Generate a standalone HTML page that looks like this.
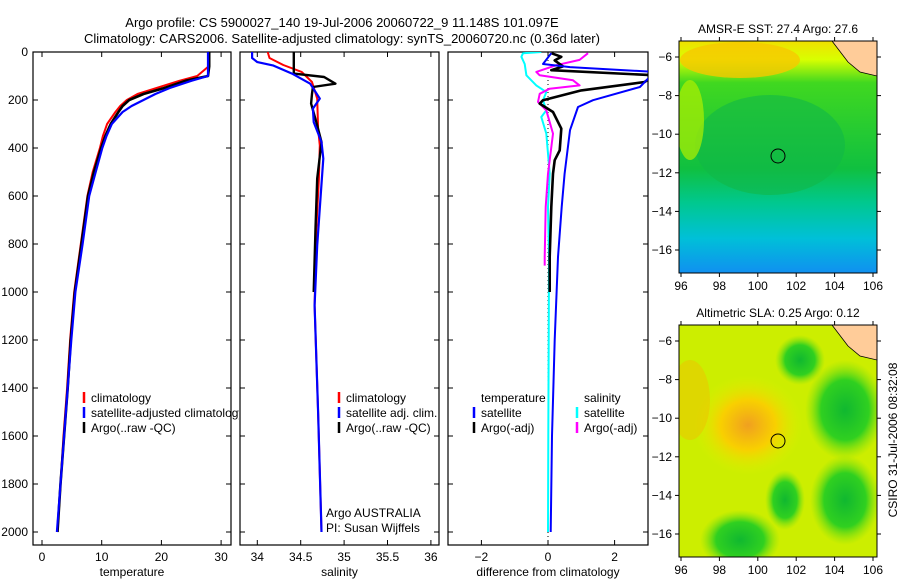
<!DOCTYPE html>
<html><head><meta charset="utf-8"><style>
body{margin:0;background:#fff;}
svg{display:block;font-family:"Liberation Sans",sans-serif;}
</style></head><body>
<svg id="fig" width="900" height="580" viewBox="0 0 900 580">
<defs>
<linearGradient id="sstg" x1="0" y1="0" x2="0" y2="1">
<stop offset="0" stop-color="#f0e000"/><stop offset="0.08" stop-color="#d8ff00"/><stop offset="0.18" stop-color="#40d820"/>
<stop offset="0.55" stop-color="#10c040"/><stop offset="0.7" stop-color="#00c890"/><stop offset="0.85" stop-color="#00c0d8"/><stop offset="1" stop-color="#1090f0"/>
</linearGradient>
<radialGradient id="slaor" cx="0.5" cy="0.5" r="0.5"><stop offset="0" stop-color="#f0a020"/><stop offset="0.5" stop-color="#f8d000"/><stop offset="1" stop-color="#ddf000" stop-opacity="0"/></radialGradient>
<radialGradient id="slagr" cx="0.5" cy="0.5" r="0.5"><stop offset="0" stop-color="#10b830"/><stop offset="0.6" stop-color="#30d020"/><stop offset="1" stop-color="#80e010" stop-opacity="0"/></radialGradient>
<clipPath id="c1"><rect x="33" y="52" width="198" height="493"/></clipPath>
<clipPath id="c1l"><rect x="33" y="52" width="206" height="493"/></clipPath>
<clipPath id="c2"><rect x="240" y="52" width="199" height="493"/></clipPath>
<clipPath id="c3"><rect x="448" y="52" width="200" height="493"/></clipPath>
<clipPath id="m1"><rect x="679" y="41" width="198" height="232"/></clipPath>
<clipPath id="m2"><rect x="679" y="325" width="198" height="232"/></clipPath>
</defs>
<text x="342" y="27" font-size="13" text-anchor="middle">Argo profile: CS 5900027_140 19-Jul-2006 20060722_9 11.148S 101.097E</text>
<text x="342" y="43" font-size="13" text-anchor="middle">Climatology: CARS2006. Satellite-adjusted climatology: synTS_20060720.nc (0.36d later)</text>
<g id="panels"></g>
<g id="maps">
<g clip-path="url(#m1)">
<rect x="679" y="41" width="198" height="232" fill="url(#sstg)"/>
<ellipse cx="740" cy="60" rx="60" ry="18" fill="#f8c800" opacity="0.8"/>
<ellipse cx="770" cy="145" rx="75" ry="50" fill="#10b848" opacity="0.6"/>
<ellipse cx="690" cy="120" rx="14" ry="40" fill="#b0f000" opacity="0.7"/>
<polygon points="832,41 877,41 877,76 860,72 848,62" fill="#ffcc99" stroke="#000" stroke-width="0.8"/>
<circle cx="778" cy="156" r="7" fill="none" stroke="#000"/>
</g>
<rect x="679" y="41" width="198" height="232" fill="none" stroke="#000"/>
<text x="778" y="33" font-size="12" text-anchor="middle">AMSR-E SST: 27.4 Argo: 27.6</text>
<g clip-path="url(#m2)">
<rect x="679" y="325" width="198" height="232" fill="#ccee00"/>
<ellipse cx="845" cy="410" rx="40" ry="50" fill="url(#slagr)"/>
<ellipse cx="845" cy="500" rx="35" ry="45" fill="url(#slagr)"/>
<ellipse cx="740" cy="540" rx="40" ry="30" fill="url(#slagr)"/>
<ellipse cx="785" cy="500" rx="20" ry="30" fill="url(#slagr)"/>
<ellipse cx="800" cy="360" rx="25" ry="25" fill="url(#slagr)"/>
<ellipse cx="748" cy="425" rx="55" ry="50" fill="url(#slaor)"/>
<ellipse cx="690" cy="400" rx="20" ry="40" fill="#f0c000" opacity="0.5"/>
<polygon points="832,325 877,325 877,360 860,356 848,346" fill="#ffcc99" stroke="#000" stroke-width="0.8"/>
<circle cx="778" cy="441" r="7" fill="none" stroke="#000"/>
</g>
<rect x="679" y="325" width="198" height="232" fill="none" stroke="#000"/>
<text x="778" y="317" font-size="12" text-anchor="middle">Altimetric SLA: 0.25 Argo: 0.12</text>
<text transform="translate(897,440) rotate(-90)" font-size="12" text-anchor="middle">CSIRO 31-Jul-2006 08:32:08</text>
</g>
<script>
// ---- profile data ----
const tempDepths = [0,60,100,120,150,175,200,225,250,300,350,400,500,600,800,1000,1200,1400,1600,1800,2000];
const tempClim = [27.9,27.9,26,23,19.2,16,14.2,13.1,12.3,10.9,10.2,9.7,8.5,7.6,6.5,5.4,4.7,4.2,3.6,3.1,2.6];
const tempSat = [27.8,27.8,27.8,25,21.4,19,17,15,13.5,11.7,10.8,10.1,9,7.9,6.8,5.6,4.9,4.3,3.7,3.1,2.5];
const tempArgo = [28,28,27.8,24,20.5,17,14.6,13.5,12.8,11.5,10.6,9.9,8.7,7.7,6.6,5.5,4.8,4.3,3.7,3.1,2.6];
const salDepthsClim = [0,25,54,83,125,194,319,389,528,736,1056,1500,2000];
const salClim = [34.12,34.14,34.3,34.51,34.63,34.69,34.7,34.72,34.71,34.68,34.66,34.7,34.74];
const salDepthsSat = [0,25,42,56,90,132,194,236,292,375,444,597,806,1056,1500,2000];
const salSat = [33.94,33.94,34.0,34.18,34.4,34.61,34.72,34.64,34.65,34.74,34.76,34.73,34.69,34.66,34.7,34.74];
const salDepthsArgo = [0,90,104,132,146,174,215,292,375,528,736,1000];
const salArgo = [34.42,34.42,34.77,34.9,34.64,34.63,34.62,34.68,34.74,34.69,34.67,34.65];
const dDepthsTS = [5,50,63,83,146,201,229,326,507,646,854,1200,1600,2000];
const dTempSat = [0.1,-0.15,0.66,3.2,2.76,1.35,0.9,0.66,0.5,0.41,0.3,0.2,0.12,0.08];
const dDepthsTA = [5,20,35,60,76,97,125,160,201,215,250,319,410,451,507,646,854,1000];
const dTempArgo = [0.1,0.4,0.2,0.45,0.1,3.2,2.9,1.0,-0.15,-0.25,0.15,0.4,0.35,0.2,0.15,0.1,0.05,0.05];
const dDepthsSS = [0,5,20,50,97,139,167,201,243,271,340,507,646,854,1200,1600,2000];
const dSalSat = [-0.2,-0.75,-0.8,-0.7,-0.65,-0.35,-0.05,-0.15,-0.05,-0.2,-0.05,0.05,0,0.03,0.02,0.01,0.0];
const dDepthsSA = [5,33,55,83,97,118,139,153,174,208,243,340,507,646,854,890];
const dSalArgo = [1.2,0.95,0.25,-0.35,-0.25,0.75,0.95,0.05,-0.25,-0.3,-0.05,0.15,0,-0.07,-0.1,-0.1];
const depthTicks = [0,200,400,600,800,1000,1200,1400,1600,1800,2000];
const tempTicks = [0,10,20,30];
const salTicks = [34,34.5,35,35.5,36];
const diffTicks = [-2,0,2];
const lonTicks = [96,98,100,102,104,106];
const latTicks = [-6,-8,-10,-12,-14,-16];

const NS="http://www.w3.org/2000/svg";
const y = d => 52 + d*0.24;
const xT = v => 42 + v*5.97;
const xS = v => 257.3 + (v-34)*86.8;
const xD = v => 548 + v*33.3;
const root = document.getElementById('panels');
function mk(tag, attrs, parent){const e=document.createElementNS(NS,tag);for(const k in attrs)e.setAttribute(k,attrs[k]);(parent||root).appendChild(e);return e;}
function txt(s,x,yy,anchor,parent){const t=mk('text',{x:x,y:yy,'font-size':12,'text-anchor':anchor||'start'},parent);t.textContent=s;return t;}

const panels=[{x0:33,x1:231,fx:xT,ticks:tempTicks,title:'temperature',clip:'c1',name:'temperature'},
 {x0:240,x1:439,fx:xS,ticks:salTicks,title:'salinity',clip:'c2',name:'salinity'},
 {x0:448,x1:648,fx:xD,ticks:diffTicks,title:'difference from climatology',clip:'c3',name:'difference'}];
panels.forEach((p,i)=>{
  const g=mk('g',{});
  
  
  mk('rect',{x:p.x0,y:52,width:p.x1-p.x0,height:493,fill:'#fff',stroke:'#000','stroke-width':1.2},g);
  p.ticks.forEach(v=>{const X=p.fx(v);
    mk('line',{x1:X,y1:545,x2:X,y2:540,stroke:'#000'},g);mk('line',{x1:X,y1:52,x2:X,y2:57,stroke:'#000'},g);
    const t=txt(String(v).replace('-','\u2212'),X,561,'middle',g);
    
    
  });
  depthTicks.forEach(d=>{
    mk('line',{x1:p.x0,y1:y(d),x2:p.x0+5,y2:y(d),stroke:'#000'},g);
    mk('line',{x1:p.x1,y1:y(d),x2:p.x1-5,y2:y(d),stroke:'#000'},g);
    if(i===0){const t=txt(String(d),28,y(d)+4,'end',g);
      
      }
  });
  const at=txt(p.title,(p.x0+p.x1)/2,576,'middle',g);
  
  
});
if(true){const zl=mk('line',{x1:xD(0),y1:52,x2:xD(0),y2:545,stroke:'#000','stroke-dasharray':'1,3'});
  
  }
function line(depths,vals,fx,color,w,clip,name){
  const pts=depths.map((d,i)=>fx(vals[i]).toFixed(1)+','+y(d).toFixed(1)).join(' ');
  const pl=mk('polyline',{points:pts,fill:'none',stroke:color,'stroke-width':w,'clip-path':'url(#'+clip+')','stroke-linejoin':'round'});
  
  
}
line(tempDepths,tempClim,xT,'#ff0000',2,'c1','temp-climatology-line');
line(tempDepths,tempArgo,xT,'#000',2.6,'c1','temp-argo-line');
line(tempDepths,tempSat,xT,'#0000ff',2.2,'c1','temp-satellite-line');
line(salDepthsClim,salClim,xS,'#ff0000',2,'c2','sal-climatology-line');
line(salDepthsArgo,salArgo,xS,'#000',2.4,'c2','sal-argo-line');
line(salDepthsSat,salSat,xS,'#0000ff',2.2,'c2','sal-satellite-line');
line(dDepthsSS,dSalSat,xD,'#00ffff',2,'c3','diff-sal-satellite-line');
line(dDepthsSA,dSalArgo,xD,'#ff00ff',2,'c3','diff-sal-argo-line');
line(dDepthsTA,dTempArgo,xD,'#000',2.6,'c3','diff-temp-argo-line');
line(dDepthsTS,dTempSat,xD,'#0000ff',2,'c3','diff-temp-satellite-line');

function leg(x,yy,color,label,clip){
  const g=mk('g',{});
  
  
  if(clip)g.setAttribute('clip-path','url(#'+clip+')');
  if(color)mk('line',{x1:x,y1:yy-10,x2:x,y2:yy+1,stroke:color,'stroke-width':2.5},g);
  txt(label,x+7,yy,'start',g);
}
leg(84,402,'#ff0000','climatology');leg(84,417,'#0000ff','satellite-adjusted climatology','c1l');leg(84,432,'#000','Argo(..raw -QC)');
leg(339,402,'#ff0000','climatology');leg(339,417,'#0000ff','satellite adj. clim.');leg(339,432,'#000','Argo(..raw -QC)');
leg(474,417,'#0000ff','satellite');leg(474,432,'#000','Argo(-adj)');
leg(577,417,'#00ffff','satellite');leg(577,432,'#ff00ff','Argo(-adj)');
txt('temperature',481,402);txt('salinity',584,402);
txt('Argo AUSTRALIA',326,517);txt('PI: Susan Wijffels',326,532);
// map axes
const mg=document.getElementById('maps');
[[41,273,57,19.3],[325,557,341,19.3]].forEach(m=>{
  lonTicks.forEach(v=>{const X=681+(v-96)*19.2;
    mk('line',{x1:X,y1:m[1],x2:X,y2:m[1]+4,stroke:'#000'},mg);mk('line',{x1:X,y1:m[0],x2:X,y2:m[0]-4,stroke:'#000'},mg);
    txt(String(v),X,m[1]+17,'middle',mg);});
  latTicks.forEach(v=>{const Y=m[2]+(-6-v)*m[3];
    mk('line',{x1:679,y1:Y,x2:675,y2:Y,stroke:'#000'},mg);mk('line',{x1:877,y1:Y,x2:881,y2:Y,stroke:'#000'},mg);
    txt(String(v).replace('-','\u2212'),672,Y+4,'end',mg);});
});
</script>
</svg>
</body></html>
